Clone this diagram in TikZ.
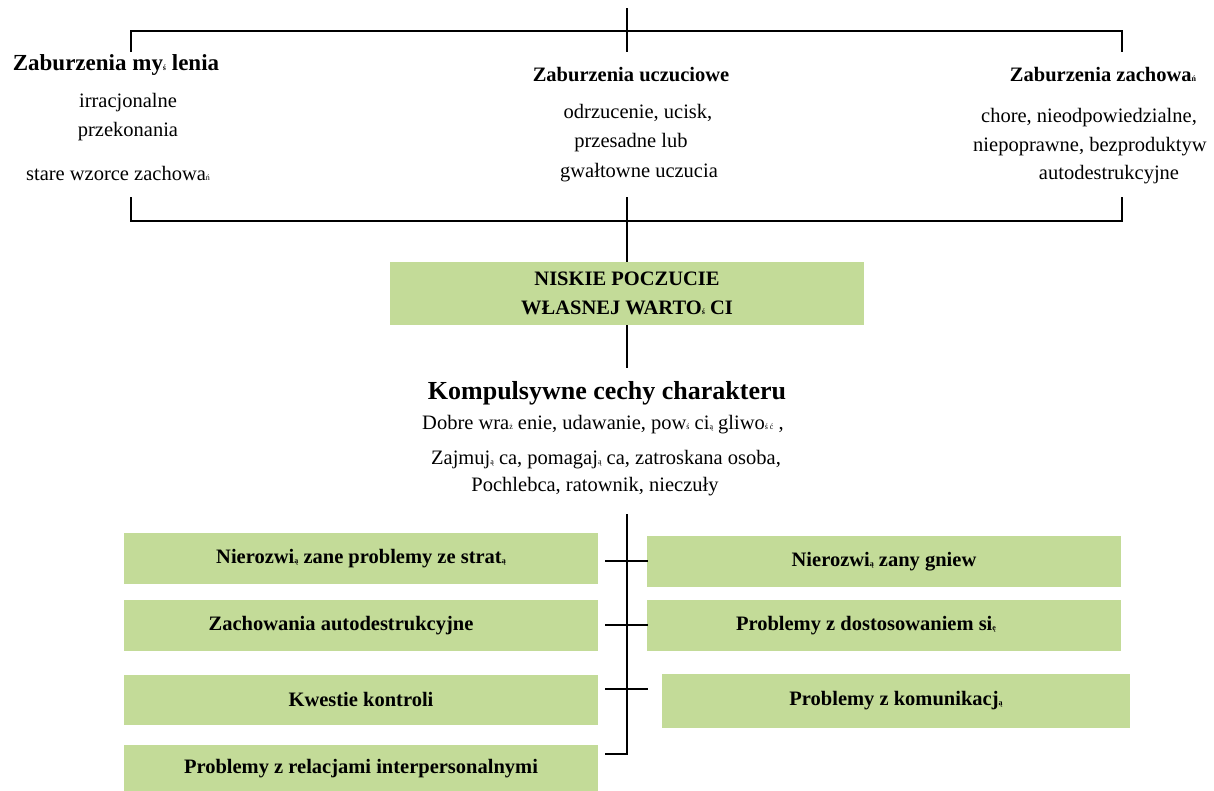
\documentclass[tikz,border=0pt]{standalone}
\usepackage{fontspec}
\setmainfont{Liberation Serif}
\usepackage{tikz}
\usetikzlibrary{positioning}
\definecolor{boxgreen}{HTML}{C3DB98}
\newcommand{\drobne}[1]{{\fontsize{8pt}{8pt}\selectfont #1}}

\begin{document}
\begin{tikzpicture}[x=1pt, y=-1pt,
  every node/.style={font=\fontsize{20.5pt}{25pt}\selectfont, inner sep=0pt},
  head/.style={font=\fontsize{20.5pt}{25pt}\selectfont\bfseries},
  greenbox/.style={fill=boxgreen, minimum width=474pt, minimum height=51pt, align=center, font=\fontsize{20.5pt}{29pt}\selectfont\bfseries},
  link/.style={line width=1.7pt}]
\useasboundingbox (0,0) rectangle (1214,790);

% gorna klamra
\coordinate (topmid) at (627,8);
\coordinate (topmidB) at (627,52);
\coordinate (topL) at (131,52);
\coordinate (topR) at (1122,52);
\draw[link] (topmid) -- (topmidB);
\draw[link] (topL) -- ++(0,-21) -| (topR);

% trzy grupy zaburzen
\node[head, font=\fontsize{23pt}{25pt}\selectfont\bfseries] (mysl) at (116,65) {Zaburzenia my\drobne{ś} lenia};
\node (mysl1) at (128,103) {irracjonalne};
\node (mysl2) at (128,132) {przekonania};
\node (mysl3) at (118,173) {stare wzorce zachowa\drobne{ń}};

\node[head] (uczu) at (631,75) {Zaburzenia uczuciowe};
\node (uczu1) at (638,113) {odrzucenie, ucisk,};
\node (uczu2) at (631,143) {przesadne lub};
\node (uczu3) at (639,173) {gwałtowne uczucia};

\node[head] (zach) at (1103,75) {Zaburzenia zachowa\drobne{ń}};
\node (zach1) at (1089,118) {chore, nieodpowiedzialne,};
\node[anchor=west] (zach2) at (973,147) {niepoprawne, bezproduktyw};
\node (zach3) at (1109,175) {autodestrukcyjne};

% dolna klamra
\coordinate (botL) at (131,197);
\coordinate (botR) at (1122,197);
\coordinate (botmid) at (627,197);
\draw[link] (botL) -- ++(0,24) -| (botR);

\node[greenbox, minimum height=63pt] (niskie) at (627,293.5) {NISKIE POCZUCIE\\WŁASNEJ WARTO\drobne{ś} CI};
\draw[link] (botmid) -- (niskie.north);
\coordinate (kompTop) at (627,368);
\draw[link] (niskie.south) -- (kompTop);

\node[font=\fontsize{26pt}{30pt}\selectfont\bfseries] (komp) at (607,393) {Kompulsywne cechy charakteru};
\node (komp1) at (603,425) {Dobre wra\drobne{ż} enie, udawanie, pow\drobne{ś} ci\drobne{ą} gliwo\drobne{ś ć} ,};
\node (komp2) at (606,460) {Zajmuj\drobne{ą} ca, pomagaj\drobne{ą} ca, zatroskana osoba,};
\node (komp3) at (595,487) {Pochlebca, ratownik, nieczuły};

% problemy
\node[greenbox] (strata) at (361,558.5) {Nierozwi\drobne{ą} zane problemy ze strat\drobne{ą}};
\node[greenbox, below=16pt of strata] (autodest) {Zachowania autodestrukcyjne\hspace*{40pt}};
\node[greenbox, minimum height=50pt, below=23pt of autodest] (kontrola) {Kwestie kontroli};
\node[greenbox, minimum height=47pt, below=20pt of kontrola] (relacje) {Problemy z relacjami interpersonalnymi};

\node[greenbox] (gniew) at (884,561.5) {Nierozwi\drobne{ą} zany gniew};
\node[greenbox, below=13pt of gniew] (dostos) {Problemy z dostosowaniem si\drobne{ę}\hspace*{36pt}};
\node[greenbox, minimum width=468pt, minimum height=54pt] (komunik) at (896,701) {Problemy z komunikacj\drobne{ą}};

% pion i odnogi
\coordinate (spineTop) at (627,514);
\coordinate (spineBot) at (627,754);
\coordinate (elbow) at (605,754);
\draw[link] (spineTop) -- (spineBot) -- (elbow);
\foreach \ty [count=\i] in {561,625,689} {
  \coordinate (tickL\i) at (605,\ty);
  \coordinate (tickR\i) at (648,\ty);
  \draw[link] (tickL\i) -- (tickR\i);
}
\end{tikzpicture}
\end{document}
